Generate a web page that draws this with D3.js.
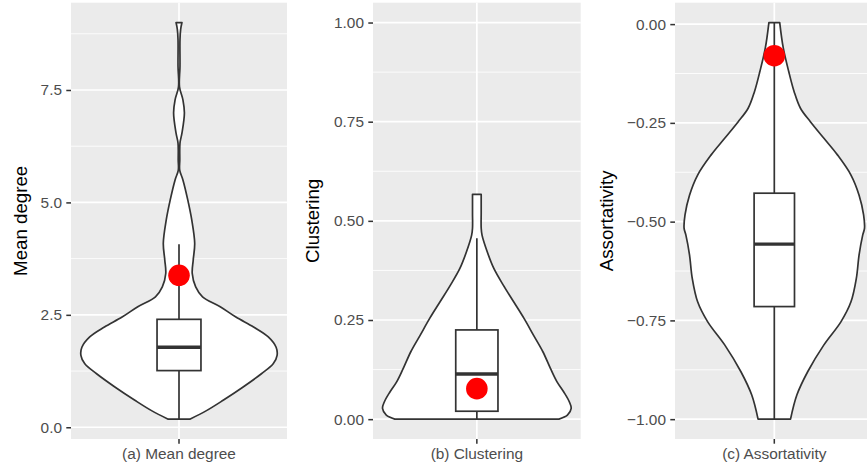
<!DOCTYPE html>
<html>
<head>
<meta charset="utf-8">
<script src="https://cdn.jsdelivr.net/npm/d3@7"></script>
<style>
  html, body { margin: 0; padding: 0; background: #ffffff; }
  svg { display: block; font-family: "Liberation Sans", Arial, Helvetica, sans-serif; }
</style>
</head>
<body>
<svg id="chart" width="867" height="468"></svg>
<script>
// ---- (a) Mean degree ----
const degreeLabel = "(a) Mean degree";
const degreeTitle = "Mean degree";
const degreeValues  = [0.18, 0.37, 0.60, 0.89, 1.19, 1.41, 1.60, 1.78, 2.01, 2.23, 2.45, 2.68, 2.90, 3.12, 3.42, 3.72, 4.09, 4.61, 5.05, 5.50, 5.72, 5.94, 6.32, 6.54, 6.99, 7.28, 7.57, 8.03, 8.62, 8.85, 9.00];
const degreeDensity = [0.11, 0.28, 0.45, 0.65, 0.84, 0.96, 1.00, 0.99, 0.91, 0.76, 0.58, 0.42, 0.24, 0.17, 0.135, 0.145, 0.16, 0.13, 0.09, 0.04, 0.007, 0.008, 0.01, 0.03, 0.055, 0.04, 0.005, 0.01, 0.01, 0.017, 0.03];
const degreeBox = [0.18, 1.26, 1.78, 2.40, 4.07];   // whisker low, Q1, median, Q3, whisker high
const degreeObserved = 3.38;
const degreeTicks = [0, 2.5, 5, 7.5];
const degreeTickLabels = ["0.0", "2.5", "5.0", "7.5"];
const degreeMinor = [1.25, 3.75, 6.25, 8.75];

// ---- (b) Clustering ----
const clusteringLabel = "(b) Clustering";
const clusteringTitle = "Clustering";
const clusteringValues  = [0.000, 0.010, 0.027, 0.044, 0.069, 0.094, 0.128, 0.170, 0.212, 0.254, 0.296, 0.338, 0.380, 0.422, 0.464, 0.482, 0.520, 0.567];
const clusteringDensity = [0.87, 0.96, 1.00, 0.98, 0.92, 0.85, 0.78, 0.70, 0.60, 0.50, 0.39, 0.28, 0.18, 0.11, 0.055, 0.046, 0.046, 0.046];
const clusteringBox = [0.000, 0.020, 0.114, 0.225, 0.456];
const clusteringObserved = 0.077;
const clusteringLimits = [0, 1];
const clusteringTicks = [0, 0.25, 0.5, 0.75, 1];
const clusteringTickLabels = ["0.00", "0.25", "0.50", "0.75", "1.00"];
const clusteringMinor = [0.125, 0.375, 0.625, 0.875];

// ---- (c) Assortativity ----
const assortLabel = "(c) Assortativity";
const assortTitle = "Assortativity";
const assortValues  = [-1.000, -0.939, -0.880, -0.812, -0.753, -0.703, -0.643, -0.584, -0.534, -0.517, -0.483, -0.433, -0.382, -0.331, -0.289, -0.247, -0.213, -0.171, -0.120, -0.061, 0.004];
const assortDensity = [0.18, 0.25, 0.37, 0.55, 0.74, 0.85, 0.91, 0.94, 0.98, 1.00, 0.99, 0.94, 0.85, 0.70, 0.55, 0.40, 0.29, 0.22, 0.16, 0.10, 0.06];
const assortBox = [-1.000, -0.715, -0.557, -0.428, 0.004];
const assortObserved = -0.080;
const assortTicks = [-1, -0.75, -0.5, -0.25, 0];
const assortTickLabels = ["\u22121.00", "\u22120.75", "\u22120.50", "\u22120.25", "0.00"];
const assortMinor = [-0.875, -0.625, -0.375, -0.125];

// ---- layout ----
const panelTop = 2.7, panelBottom = 439;
const panels = [
  { left: 71,  right: 287,   titleOffset: 44.3, label: degreeLabel, title: degreeTitle,
    values: degreeValues, density: degreeDensity, box: degreeBox, observed: degreeObserved,
    limits: d3.extent(degreeValues), ticks: degreeTicks, tickLabels: degreeTickLabels, minor: degreeMinor },
  { left: 373, right: 580.7, titleOffset: 53.6, label: clusteringLabel, title: clusteringTitle,
    values: clusteringValues, density: clusteringDensity, box: clusteringBox, observed: clusteringObserved,
    limits: clusteringLimits, ticks: clusteringTicks, tickLabels: clusteringTickLabels, minor: clusteringMinor },
  { left: 675, right: 873.6, titleOffset: 61.6, label: assortLabel, title: assortTitle,
    values: assortValues, density: assortDensity, box: assortBox, observed: assortObserved,
    limits: d3.extent(assortValues), ticks: assortTicks, tickLabels: assortTickLabels, minor: assortMinor }
];

const ink = "#333333";
const lineW = 1.7;
const tickFont = 15.4, titleFont = 18.7;

const svg = d3.select("#chart");

panels.forEach((p) => {
  const span = p.limits[1] - p.limits[0];
  const y = d3.scaleLinear()
    .domain([p.limits[0] - 0.05 * span, p.limits[1] + 0.05 * span])
    .range([panelBottom, panelTop]);
  const x = d3.scaleBand()
    .domain([p.label])
    .range([p.left, p.right])
    .paddingInner(0)
    .paddingOuter(0.1);
  const bw = x.bandwidth();
  const cx = x(p.label) + bw / 2;

  const g = svg.append("g");

  // panel background
  g.append("rect")
    .attr("x", p.left).attr("y", panelTop)
    .attr("width", p.right - p.left).attr("height", panelBottom - panelTop)
    .attr("fill", "#EBEBEB");

  // minor grid
  g.selectAll(".minor").data(p.minor).join("line")
    .attr("x1", p.left).attr("x2", p.right)
    .attr("y1", d => y(d)).attr("y2", d => y(d))
    .attr("stroke", "#ffffff").attr("stroke-width", lineW / 2);

  // major grid
  g.selectAll(".major").data(p.ticks).join("line")
    .attr("x1", p.left).attr("x2", p.right)
    .attr("y1", d => y(d)).attr("y2", d => y(d))
    .attr("stroke", "#ffffff").attr("stroke-width", lineW);
  g.append("line")
    .attr("x1", cx).attr("x2", cx)
    .attr("y1", panelTop).attr("y2", panelBottom)
    .attr("stroke", "#ffffff").attr("stroke-width", lineW);

  // violin
  const prof = p.values.map((v, i) => ({ v, d: p.density[i] }))
    .sort((a, b) => a.v - b.v);
  const half = 0.545 * bw;
  const violin = d3.area()
    .curve(d3.curveCatmullRom.alpha(0.5))
    .y(d => y(d.v))
    .x0(d => cx - d.d * half)
    .x1(d => cx + d.d * half);
  g.append("path")
    .datum(prof)
    .attr("d", violin)
    .attr("fill", "#ffffff")
    .attr("stroke", ink)
    .attr("stroke-width", lineW)
    .attr("stroke-linejoin", "round");

  // box and whiskers
  const [wLo, q1, med, q3, wHi] = p.box;
  const bh = 0.122 * bw;
  g.append("line")
    .attr("x1", cx).attr("x2", cx)
    .attr("y1", y(q3)).attr("y2", y(wHi))
    .attr("stroke", ink).attr("stroke-width", lineW);
  g.append("line")
    .attr("x1", cx).attr("x2", cx)
    .attr("y1", y(q1)).attr("y2", y(wLo))
    .attr("stroke", ink).attr("stroke-width", lineW);
  g.append("rect")
    .attr("x", cx - bh).attr("width", 2 * bh)
    .attr("y", y(q3)).attr("height", y(q1) - y(q3))
    .attr("fill", "#ffffff")
    .attr("stroke", ink).attr("stroke-width", lineW);
  g.append("line")
    .attr("x1", cx - bh).attr("x2", cx + bh)
    .attr("y1", y(med)).attr("y2", y(med))
    .attr("stroke", ink).attr("stroke-width", lineW * 2);

  // observed network value
  g.append("circle")
    .attr("cx", cx).attr("cy", y(p.observed))
    .attr("r", 10.8)
    .attr("fill", "#FF0000");

  // y axis
  const yAxis = d3.axisLeft(y)
    .tickValues(p.ticks)
    .tickFormat((d, i) => p.tickLabels[i])
    .tickSize(4.7)
    .tickPadding(4.3);
  const ya = svg.append("g")
    .attr("transform", `translate(${p.left},0)`)
    .call(yAxis);
  ya.select(".domain").remove();
  ya.selectAll(".tick line").attr("stroke", ink).attr("stroke-width", lineW * 0.9);
  ya.selectAll(".tick text")
    .attr("fill", "#4D4D4D")
    .attr("font-size", tickFont)
    .attr("font-family", "'Liberation Sans', Arial, sans-serif");

  // x axis
  const xAxis = d3.axisBottom(x).tickSize(4.7).tickPadding(4);
  const xa = svg.append("g")
    .attr("transform", `translate(0,${panelBottom})`)
    .call(xAxis);
  xa.select(".domain").remove();
  xa.selectAll(".tick line").attr("stroke", ink).attr("stroke-width", lineW * 0.9);
  xa.selectAll(".tick text")
    .attr("fill", "#4D4D4D")
    .attr("font-size", tickFont)
    .attr("font-family", "'Liberation Sans', Arial, sans-serif")
    .attr("dy", null)
    .attr("y", 459 - panelBottom);

  // y title
  svg.append("text")
    .attr("transform", `translate(${p.left - p.titleOffset},${(panelTop + panelBottom) / 2}) rotate(-90)`)
    .attr("text-anchor", "middle")
    .attr("font-size", titleFont)
    .attr("fill", "#000000")
    .text(p.title);
});
</script>
</body>
</html>
